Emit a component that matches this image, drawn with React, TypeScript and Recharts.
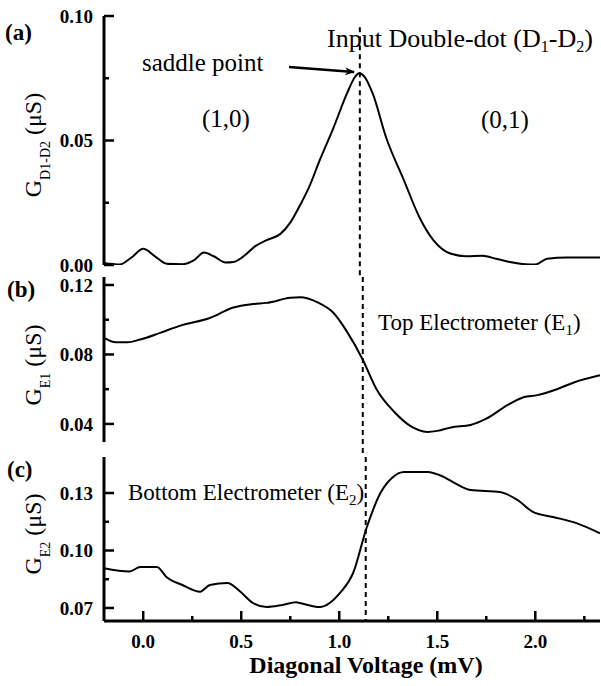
import React from 'react';
import { LineChart, Line, XAxis, YAxis, ReferenceLine } from 'recharts';

// ---------- data ----------
const voltageA = [-0.2, -0.12, -0.06, 0.0, 0.06, 0.12, 0.2, 0.26, 0.31, 0.36, 0.42, 0.46, 0.52, 0.57, 0.63, 0.7, 0.75, 0.8, 0.85, 0.9, 0.97, 1.04, 1.08, 1.1, 1.13, 1.17, 1.24, 1.33, 1.41, 1.48, 1.57, 1.65, 1.73, 1.8, 1.87, 1.95, 2.0, 2.06, 2.16, 2.33];
const conductanceD1D2 = [0.0008, 0.0002, 0.003, 0.0065, 0.0035, 0.0005, 0.0003, 0.002, 0.005, 0.0035, 0.001, 0.0012, 0.004, 0.0075, 0.01, 0.0125, 0.017, 0.024, 0.032, 0.042, 0.055, 0.069, 0.0755, 0.077, 0.0755, 0.069, 0.051, 0.034, 0.019, 0.01, 0.0045, 0.0035, 0.0037, 0.0025, 0.0012, 0.0003, 0.0002, 0.0025, 0.003, 0.003];

const voltageB = [-0.2, -0.14, -0.08, -0.015, 0.09, 0.19, 0.34, 0.46, 0.56, 0.63, 0.75, 0.8, 0.89, 0.97, 1.04, 1.12, 1.19, 1.28, 1.36, 1.45, 1.5, 1.57, 1.67, 1.75, 1.86, 1.94, 2.01, 2.11, 2.2, 2.33];
const conductanceE1 = [0.0895, 0.087, 0.087, 0.0886, 0.0926, 0.0966, 0.101, 0.107, 0.109, 0.1097, 0.1126, 0.113, 0.11, 0.104, 0.093, 0.077, 0.06, 0.047, 0.039, 0.0354, 0.036, 0.038, 0.0394, 0.043, 0.051, 0.0554, 0.0566, 0.06, 0.064, 0.068];

const voltageC = [-0.2, -0.07, -0.015, 0.07, 0.12, 0.2, 0.29, 0.34, 0.43, 0.49, 0.56, 0.63, 0.71, 0.78, 0.8, 0.9, 1.005, 1.07, 1.14, 1.21, 1.27, 1.33, 1.45, 1.52, 1.58, 1.67, 1.82, 1.91, 1.99, 2.09, 2.21, 2.33];
const conductanceE2 = [0.0907, 0.089, 0.0914, 0.0914, 0.086, 0.082, 0.0785, 0.082, 0.083, 0.079, 0.0726, 0.0705, 0.0716, 0.073, 0.0726, 0.0705, 0.078, 0.088, 0.112, 0.13, 0.138, 0.141, 0.141, 0.139, 0.1357, 0.1316, 0.1305, 0.1263, 0.12, 0.1175, 0.1143, 0.109];

const xTicks = [0, 0.25, 0.5, 0.75, 1, 1.25, 1.5, 1.75, 2, 2.25];
const xMajor = [0, 0.5, 1, 1.5, 2];
const xTickLabels = ['0.0', '0.5', '1.0', '1.5', '2.0'];

const yTicksA = [0, 0.025, 0.05, 0.075, 0.1];
const yMajorA = [0, 0.05, 0.1];
const yLabelsA = ['0.00', '0.05', '0.10'];

const yTicksB = [0.04, 0.06, 0.08, 0.1, 0.12];
const yMajorB = [0.04, 0.08, 0.12];
const yLabelsB = ['0.04', '0.08', '0.12'];

const yTicksC = [0.07, 0.085, 0.1, 0.115, 0.13];
const yMajorC = [0.07, 0.1, 0.13];
const yLabelsC = ['0.07', '0.10', '0.13'];

const xDomain: [number, number] = [-0.2, 2.33];
const yDomainA: [number, number] = [0, 0.1];
const yDomainB: [number, number] = [0.0296, 0.1246];
const yDomainC: [number, number] = [0.0632, 0.1488];

const toRows = (xs: number[], ys: number[]) => xs.map((v, i) => ({ v, g: ys[i] }));
const dataA = toRows(voltageA, conductanceD1D2);
const dataB = toRows(voltageB, conductanceE1);
const dataC = toRows(voltageC, conductanceE2);

// ---------- styling helpers ----------
const FONT = '"Liberation Serif", "Times New Roman", Times, serif';
const near = (a: number, b: number) => Math.abs(a - b) < 1e-6;

const makeXTick = (showLabels: boolean) => (props: any) => {
  const { x, y, payload } = props;
  const idx = xMajor.findIndex((m) => near(m, payload.value));
  const major = idx >= 0;
  return (
    <g>
      <line x1={x} y1={y} x2={x} y2={y - (major ? 10 : 5)} stroke="#000" strokeWidth={2.5} />
      {showLabels && major && (
        <text x={x} y={y + 27} textAnchor="middle" fontFamily={FONT} fontWeight="bold" fontSize={19} fill="#000">
          {xTickLabels[idx]}
        </text>
      )}
    </g>
  );
};

const makeYTick = (majors: number[], labels: string[]) => (props: any) => {
  const { x, y, payload } = props;
  const idx = majors.findIndex((m) => near(m, payload.value));
  const major = idx >= 0;
  return (
    <g>
      <line x1={x} y1={y} x2={x + (major ? 10 : 5)} y2={y} stroke="#000" strokeWidth={2.5} />
      {major && (
        <text x={x - 11} y={y} dy="0.36em" textAnchor="end" fontFamily={FONT} fontWeight="bold" fontSize={19} fill="#000">
          {labels[idx]}
        </text>
      )}
    </g>
  );
};

const axisLine = { stroke: '#000', strokeWidth: 3 };

type PanelProps = {
  data: { v: number; g: number }[];
  top: number;
  height: number;
  marginTop: number;
  marginBottom: number;
  xAxisHeight: number;
  showXLabels: boolean;
  yDomain: [number, number];
  yTicks: number[];
  yMajor: number[];
  yLabels: string[];
  dashX: number;
  dashFrom: number;
  dashTo: number;
};

function Panel(p: PanelProps) {
  return (
    <div style={{ position: 'absolute', left: 0, top: p.top }}>
      <LineChart
        width={601}
        height={p.height}
        data={p.data}
        margin={{ top: p.marginTop, right: 1, bottom: p.marginBottom, left: 0 }}
      >
        <XAxis
          dataKey="v"
          type="number"
          domain={xDomain}
          allowDataOverflow
          ticks={xTicks}
          interval={0}
          tickSize={0}
          tickMargin={0}
          tickLine={false}
          axisLine={axisLine}
          height={p.xAxisHeight}
          tick={makeXTick(p.showXLabels)}
        />
        <XAxis
          xAxisId="top"
          orientation="top"
          dataKey="v"
          type="number"
          domain={xDomain}
          allowDataOverflow
          tick={false}
          tickLine={false}
          axisLine={axisLine}
          height={0}
        />
        <YAxis
          type="number"
          domain={p.yDomain}
          allowDataOverflow
          ticks={p.yTicks}
          interval={0}
          tickSize={0}
          tickMargin={0}
          tickLine={false}
          axisLine={axisLine}
          width={104}
          tick={makeYTick(p.yMajor, p.yLabels)}
        />
        <ReferenceLine
          segment={[
            { x: p.dashX, y: p.dashFrom },
            { x: p.dashX, y: p.dashTo },
          ]}
          ifOverflow="visible"
          stroke="#000"
          strokeWidth={2}
          strokeDasharray="5 4"
        />
        <Line
          dataKey="g"
          type="monotone"
          stroke="#000"
          strokeWidth={2}
          dot={false}
          activeDot={false}
          isAnimationActive={false}
        />
      </LineChart>
    </div>
  );
}

export default function App() {
  return (
    <div style={{ position: 'absolute', left: 0, top: 0, width: 601, height: 686, background: '#fff', overflow: 'hidden' }}>
      <Panel
        data={dataA}
        top={0}
        height={281}
        marginTop={16}
        marginBottom={16}
        xAxisHeight={0}
        showXLabels={false}
        yDomain={yDomainA}
        yTicks={yTicksA}
        yMajor={yMajorA}
        yLabels={yLabelsA}
        dashX={1.105}
        dashFrom={0.0955}
        dashTo={-0.0048}
      />
      <Panel
        data={dataB}
        top={267}
        height={191}
        marginTop={10}
        marginBottom={16}
        xAxisHeight={0}
        showXLabels={false}
        yDomain={yDomainB}
        yTicks={yTicksB}
        yMajor={yMajorB}
        yLabels={yLabelsB}
        dashX={1.12}
        dashFrom={0.1246}
        dashTo={0.0216}
      />
      <Panel
        data={dataC}
        top={447}
        height={239}
        marginTop={10}
        marginBottom={0}
        xAxisHeight={65}
        showXLabels={true}
        yDomain={yDomainC}
        yTicks={yTicksC}
        yMajor={yMajorC}
        yLabels={yLabelsC}
        dashX={1.135}
        dashFrom={0.1488}
        dashTo={0.0632}
      />
      <svg
        width={601}
        height={686}
        style={{ position: 'absolute', left: 0, top: 0, pointerEvents: 'none' }}
        fontFamily={FONT}
      >
        <defs>
          <marker id="arrowHead" markerWidth="10" markerHeight="8" refX="9" refY="4" orient="auto" markerUnits="userSpaceOnUse">
            <path d="M0,0 L10,4 L0,8 L3,4 Z" fill="#000" />
          </marker>
        </defs>
        {/* panel letters */}
        <text x={5} y={40} fontSize={23} fontWeight="bold">(a)</text>
        <text x={7} y={297} fontSize={23} fontWeight="bold">(b)</text>
        <text x={7} y={477} fontSize={23} fontWeight="bold">(c)</text>

        {/* panel a annotations */}
        <text x={142} y={71} fontSize={25}>saddle point</text>
        <line x1={289} y1={67} x2={354} y2={72} stroke="#000" strokeWidth={2.5} markerEnd="url(#arrowHead)" />
        <text x={226} y={127} fontSize={25} textAnchor="middle">(1,0)</text>
        <text x={505} y={128} fontSize={25} textAnchor="middle">(0,1)</text>
        <text x={327} y={47} fontSize={26}>
          Input Double-dot (D<tspan fontSize={16} dy={5}>1</tspan>
          <tspan dy={-5}>-D</tspan>
          <tspan fontSize={16} dy={5}>2</tspan>
          <tspan dy={-5}>)</tspan>
        </text>

        {/* panel b / c annotations */}
        <text x={378} y={330} fontSize={23}>
          Top Electrometer (E<tspan fontSize={15} dy={5}>1</tspan>
          <tspan dy={-5}>)</tspan>
        </text>
        <text x={128} y={500} fontSize={23}>
          Bottom Electrometer (E<tspan fontSize={15} dy={5}>2</tspan>
          <tspan dy={-5}>)</tspan>
        </text>

        {/* axis titles */}
        <text x={366} y={673} fontSize={24} fontWeight="bold" textAnchor="middle">Diagonal Voltage (mV)</text>

        <text x={41} y={145} fontSize={24} textAnchor="middle" transform="rotate(-90 41 145)">
          G<tspan fontSize={14} dy={9}>D1-D2</tspan>
          <tspan dy={-9}> (μS)</tspan>
        </text>
        <text x={41} y={365} fontSize={24} textAnchor="middle" transform="rotate(-90 41 365)">
          G<tspan fontSize={14} dy={9}>E1</tspan>
          <tspan dy={-9}>  (μS)</tspan>
        </text>
        <text x={41} y={534} fontSize={24} textAnchor="middle" transform="rotate(-90 41 534)">
          G<tspan fontSize={14} dy={9}>E2</tspan>
          <tspan dy={-9}> (μS)</tspan>
        </text>
      </svg>
    </div>
  );
}
